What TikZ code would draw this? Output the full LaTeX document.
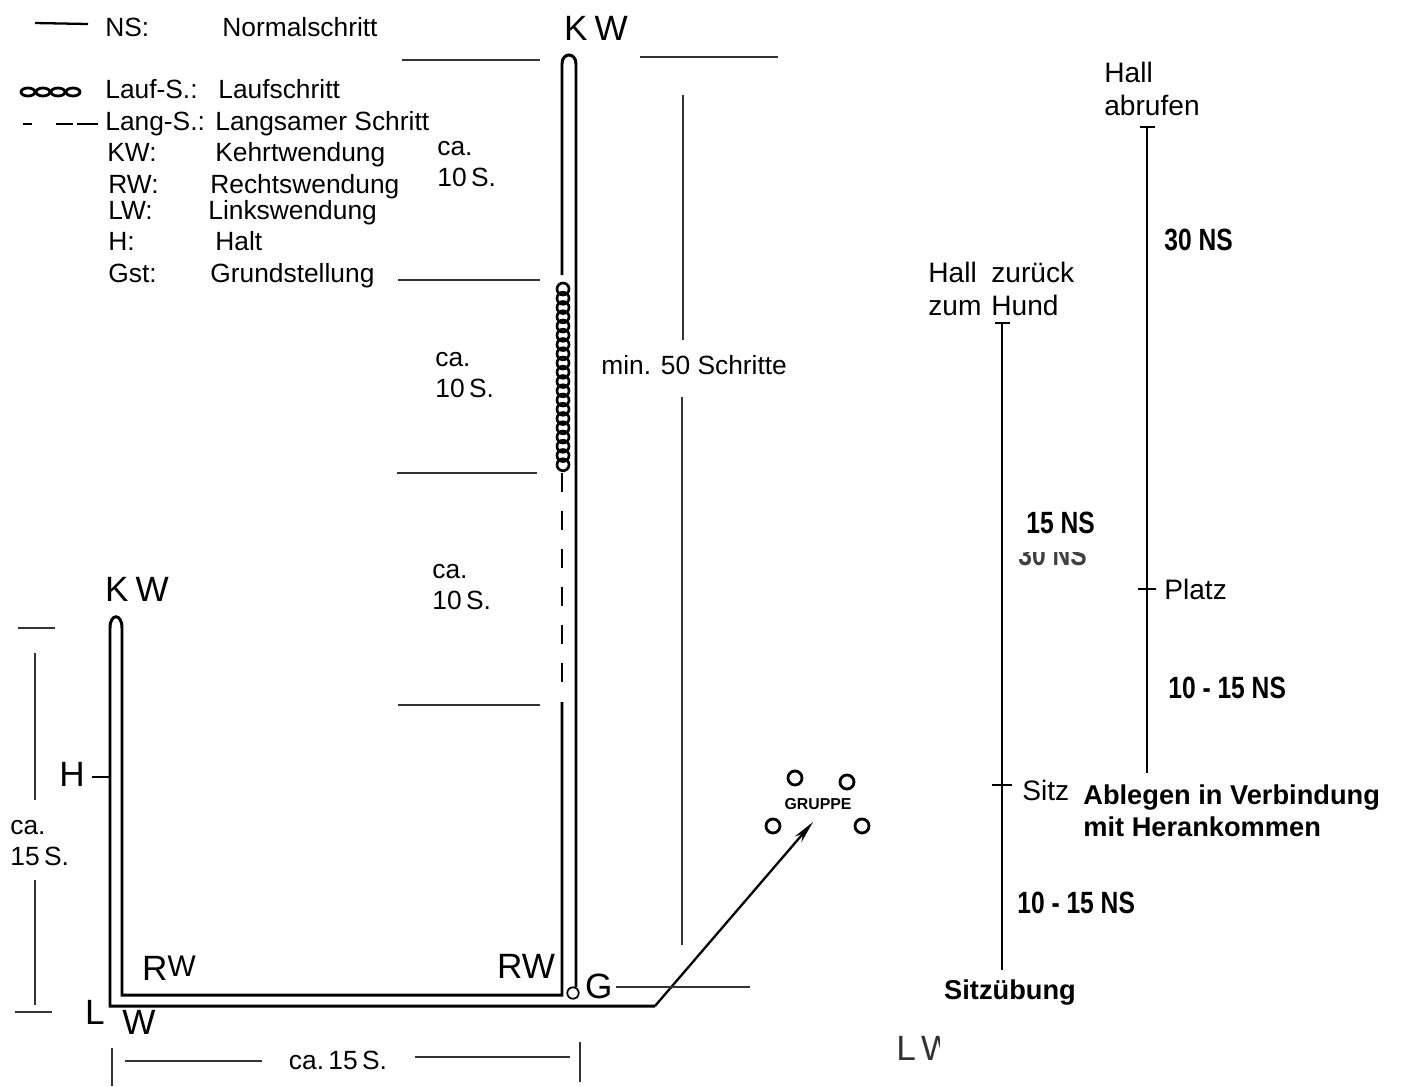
\documentclass[tikz,border=0pt]{standalone}
\usepackage{fontspec}
\setmainfont{Liberation Sans}
\newfontfamily\narrowfont[FakeStretch=0.8]{Liberation Sans}
\usepackage{tikz}
\usetikzlibrary{arrows.meta}
\usetikzlibrary{positioning, calc}

\newcommand{\lgfont}{\fontsize{15}{18}\selectfont}
\newcommand{\bigfont}{\fontsize{20}{23}\selectfont}
\newcommand{\rtfont}{\fontsize{16}{19}\selectfont}
\newcommand{\nsfont}{\narrowfont\bfseries\fontsize{17.5}{20}\selectfont}

\tikzset{
    track/.style={line width=1.7pt},
    rule/.style={line width=1.1pt, black!80},
    txt/.style={inner sep=0pt, anchor=west, align=left},
    bigtxt/.style={inner sep=0pt, font=\bigfont}
}

\begin{document}
\begin{tikzpicture}[x=0.02cm, y=-0.02cm, lgtxt/.style={txt, font=\lgfont},
    lgline/.style={inner sep=0pt, anchor=west, font=\lgfont, text height=1.55ex, text depth=0.45ex}]
    \useasboundingbox (0,0) rectangle (1407,1086);

    % LEGEND
    \draw[line width=1.3pt] (35,23) -- (88,24);
    \foreach \x in {28,43,58,73}
        \draw[line width=1.6pt] (\x,92) ellipse[x radius=7, y radius=4];
    \draw[line width=1.7pt] (23,124) -- (32,124) (56,124) -- (73,124) (77,124) -- (98,124);
    \foreach \x/\y/\m in {
        105/31/{NS:}, 222/31/Normalschritt,
        105/93/{Lauf-S.:}, 218/93/Laufschritt,
        105/125/{Lang-S.:}, 215/125/{Langsamer Schritt},
        107/156/{KW:}, 215/156/Kehrtwendung,
        108/188/{RW:}, 210/188/Rechtswendung,
        108/214/{LW:}, 208/214/Linkswendung,
        108/245/{H:}, 215/245/Halt,
        108/277/{Gst:}, 210/277/Grundstellung}
        \node[lgline] at (\x,\y) {\m};

    % SECTION LINES AND DISTANCES
    \foreach \a/\b/\y in {402/540/60, 398/540/280, 397/537/473, 398/540/705, 640/778/57}
        \draw[rule] (\a,\y) -- (\b,\y);
    \node[lgtxt] (sA) at (437,164) {ca.\\10\,S.};
    \node[lgtxt] (sB) at (435,375) {ca.\\10\,S.};
    \node[lgtxt] (sC) at (432,587) {ca.\\10\,S.};
    \node[lgtxt] (min) at (601,365) {min. 50 Schritte};
    \draw[rule] (683,95) -- (683,340);
    \draw[rule] (682,397) -- (682,945);

    % MAIN TRACK
    \draw[track] (562,275) -- (562,64) .. controls (562,52) and (576,52) .. (576,64) -- (576,987);
    \foreach \i in {0,...,19}
        \draw[line width=1.5pt] (563,{289+9.25*\i}) circle[radius=6];
    \foreach \a in {473,511,549,587,625,663}
        \draw[track] (562,\a) -- (562,{\a+19});
    \draw[track] (562,702) -- (562,995) -- (122,995) -- (122,628)
        .. controls (122,613) and (110,613) .. (110,628) -- (110,1006) -- (655,1006);
    \draw[line width=1.3pt, -{Stealth[length=13pt, width=5pt]}] (655,1006) -- (813,822);
    \node[circle, draw, fill=white, line width=1pt, inner sep=2.3pt] (gst) at (573,993) {};

    \node[bigtxt] (kwTop) at (596,28) {K\hspace{4pt}W};
    \node[bigtxt] (kwLeft) at (137,589) {K\hspace{4pt}W};
    \node[bigtxt] (rwLeft) at (169,968) {R\raisebox{2pt}{\fontsize{17}{19}\selectfont W}};
    \node[bigtxt] (rwRight) at (526,966) {RW};
    \node[bigtxt] (lwL) at (95,1012) {L};
    \node[bigtxt] (lwW) at (139,1022) {W};
    \node[bigtxt] (halt) at (72,774) {H};
    \draw[line width=1.3pt] (92,777) -- (109,777);
    \node[bigtxt, right=3pt of gst, yshift=3.5pt] (grund) {G};
    \draw[rule] ([xshift=2pt]grund.east) -- ++(134,0);

    % GRUPPE
    \foreach \x/\y in {795/778, 847/782, 773/826, 862/826}
        \draw[line width=1.6pt] (\x,\y) circle[radius=7];
    \node[inner sep=0pt, font=\bfseries\fontsize{9}{10}\selectfont] (gruppe) at (818,804) {GRUPPE};

    % DIMENSIONS LEFT AND BOTTOM
    \draw[rule] (18,628) -- (55,628) (15,1012) -- (52,1012);
    \draw[rule] (35,653) -- (35,800) (35,880) -- (35,1005);
    \node[lgtxt] (dimL) at (10,843) {ca.\\15\,S.};
    \draw[rule] (112,1048) -- (112,1086) (580,1042) -- (580,1082);
    \node[inner sep=0pt, font=\lgfont] (dimB) at (338,1060) {ca.\,15\,S.};
    \draw[rule] (125,1061) -- (262,1061) (415,1057) -- (570,1057);

    % SITZUEBUNG / ABLEGEN
    \draw[line width=1.3pt] (1140,127) -- (1155,127) (1147,127) -- (1147,773);
    \draw[line width=1.3pt] (1138,589) -- (1156,589);
    \node[txt, font=\rtfont] (abruf) at (1104,89) {Hall\\abrufen};
    \node[txt, font=\nsfont] (ns30) at (1164,240) {30 NS};
    \node[txt, font=\rtfont] (platz) at (1164,589) {Platz};
    \node[txt, font=\nsfont] (nsP) at (1168,688) {10 - 15 NS};

    \draw[line width=1.3pt] (995,323) -- (1010,323) (1002,323) -- (1002,970);
    \draw[line width=1.3pt] (992,785) -- (1012,785);
    \node[txt, font=\rtfont] (zur) at (928,289) {Hall\\zum};
    \node[txt, font=\rtfont] (hund) at (991,289) {zurück\\Hund};
    \node[txt, font=\nsfont] (ns15) at (1026,523) {15 NS};
    \begin{scope}
        \clip (1010,552) rectangle (1100,575);
        \node[txt, font=\nsfont, black!75] (ns30b) at (1018,555) {30 NS};
    \end{scope}
    \node[txt, font=\rtfont] (sitz) at (1022,790) {Sitz};
    \node[txt, font=\nsfont] (nsS) at (1017,903) {10 - 15 NS};
    \node[inner sep=0pt, font=\bfseries\fontsize{15.5}{18}\selectfont] (sitzu) at (1010,993) {Sitzübung};
    \node[txt, font=\bfseries\fontsize{15.5}{18.5}\selectfont] (ablegen) at (1083,811) {Ablegen in Verbindung\\mit Herankommen};
    \begin{scope}
        \clip (890,1025) rectangle (939,1072);
        \node[txt, font=\bigfont, black!80] (lwR) at (896,1048) {L\hspace{3pt}W};
    \end{scope}
\end{tikzpicture}
\end{document}
